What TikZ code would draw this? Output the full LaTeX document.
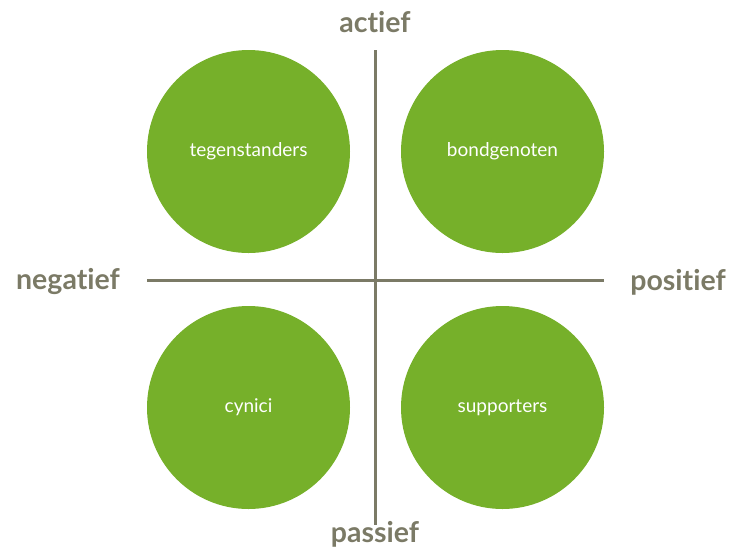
\documentclass[tikz,border=0pt]{standalone}
\usepackage{fontspec}
\setmainfont[Ligatures=NoCommon]{Lato}
\definecolor{leaf}{HTML}{76B02A}
\definecolor{axisgray}{HTML}{7B7A66}
\begin{document}
\begin{tikzpicture}[x=1pt,y=-1pt,
  quad/.style={circle,fill=leaf,minimum size=203pt,inner sep=0pt,text=white,font=\fontsize{19}{21}\selectfont},
  axislabel/.style={text=axisgray,font=\fontsize{28.5}{31}\selectfont\bfseries},
  axisline/.style={draw=axisgray,line width=3pt}]
  \useasboundingbox (0,0) rectangle (731,547);
  % quadrant circles
  \node[quad] (tl) at (248.5,151.5) {tegenstanders};
  \node[quad] (tr) at (502.5,151.5) {bondgenoten};
  \node[quad] (bl) at (248.5,407.5) {cynici};
  \node[quad] (br) at (502.5,407.5) {supporters};
  % axis ends
  \coordinate (top) at (375,50);
  \coordinate (bottom) at (375,525);
  \coordinate (left) at (147,280);
  \coordinate (right) at (604,280);
  \draw[axisline] (top) -- (bottom);
  \draw[axisline] (left) -- (right);
  % axis labels
  \node[axislabel] (act) at (375,22) {actief};
  \node[axislabel] (pas) at (375,534) {passief};
  \node[axislabel] (neg) at (68,281) {negatief};
  \node[axislabel] (pos) at (678,282) {positief};
\end{tikzpicture}
\end{document}
